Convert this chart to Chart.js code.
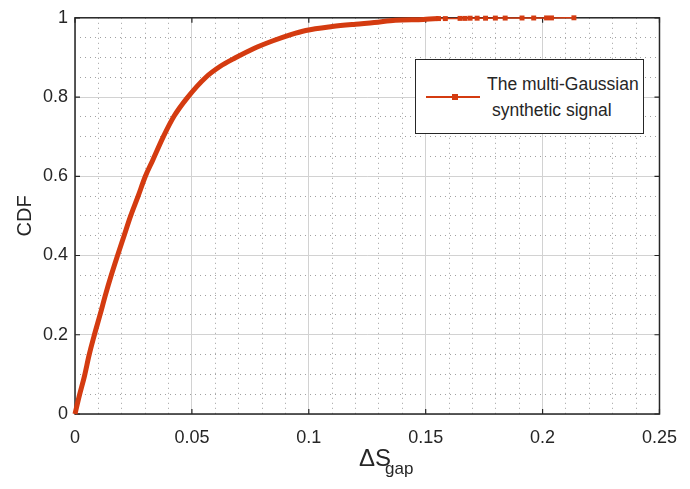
<!DOCTYPE html>
<html>
<head>
<meta charset="utf-8">
<script src="https://cdn.jsdelivr.net/npm/chart.js@4"></script>
<style>
  body { margin: 0; background: #fff; }
  #wrap { position: relative; width: 690px; height: 489px; font-family: 'Liberation Sans', Arial, sans-serif; color: #262626; }
  #legend { position: absolute; left: 415px; top: 59px; width: 227px; height: 73px; border: 1px solid #262626; background: #fff; font-size: 17.5px; }
  #legend .ln { position: absolute; left: 10px; top: 36px; width: 54px; height: 2px; background: #d43b10; }
  #legend .mk { position: absolute; left: 36px; top: 34px; width: 6px; height: 6px; background: #d43b10; }
  #legend .t { position: absolute; white-space: nowrap; line-height: 1; }
  #xlab { position: absolute; left: 359px; top: 446px; font-size: 24px; line-height: 1; white-space: nowrap; }
  #xlab span { position: relative; top: 8px; font-size: 17px; margin-left: -6px; }
</style>
</head>
<body>
<div id="wrap">
  <canvas id="cdfChart" width="690" height="489"></canvas>
  <div id="legend">
    <div class="ln"></div><div class="mk"></div>
    <div class="t" style="left:71px; top:16px;">The multi-Gaussian</div>
    <div class="t" style="left:76px; top:42px;">synthetic signal</div>
  </div>
  <div id="xlab">ΔS<span>gap</span></div>
</div>
<script>
'use strict';

const gapX = [0, 0.0018, 0.0041, 0.006, 0.0083, 0.0107, 0.013, 0.0155, 0.0182, 0.021, 0.0238, 0.027, 0.0301, 0.0332, 0.0378, 0.0424, 0.048, 0.056, 0.062, 0.0686, 0.0763, 0.0847, 0.092, 0.0987, 0.11, 0.12, 0.128, 0.137, 0.149,
    0.1555, 0.1584, 0.1647, 0.1668, 0.169, 0.172, 0.1756, 0.1798, 0.184, 0.1912, 0.1962, 0.2017, 0.2038, 0.2134];
const cdf = [0, 0.045, 0.097, 0.148, 0.2, 0.25, 0.3, 0.35, 0.4, 0.45, 0.5, 0.55, 0.6, 0.64, 0.7, 0.752, 0.798, 0.85, 0.877, 0.899, 0.922, 0.942, 0.957, 0.968, 0.978, 0.984, 0.988, 0.994, 0.996,
    0.998, 0.998, 0.9985, 0.9985, 0.999, 0.999, 0.999, 0.9993, 0.9993, 0.9995, 0.9995, 0.9997, 0.9997, 1];

const xTicks = [0, 0.05, 0.1, 0.15, 0.2, 0.25];
const yTicks = [0, 0.2, 0.4, 0.6, 0.8, 1];

const red = '#d43b10';
const axisClr = '#262626';
const tickFont = { family: "'Liberation Sans', Arial, sans-serif", size: 18 };

// box around the axes with inward ticks, like the original figure
const frame = {
    id: 'frame',
    beforeDatasetsDraw(chart) {
        const { ctx, chartArea: a, scales } = chart;
        ctx.save();
        ctx.strokeStyle = axisClr;
        ctx.lineWidth = 1.5;
        ctx.strokeRect(a.left, a.top, a.right - a.left, a.bottom - a.top);
        ctx.lineWidth = 1.2;
        ctx.beginPath();
        xTicks.forEach(v => {
            const px = scales.x.getPixelForValue(v);
            ctx.moveTo(px, a.bottom); ctx.lineTo(px, a.bottom - 5);
            ctx.moveTo(px, a.top); ctx.lineTo(px, a.top + 5);
        });
        yTicks.forEach(v => {
            const py = scales.y.getPixelForValue(v);
            ctx.moveTo(a.left, py); ctx.lineTo(a.left + 5, py);
            ctx.moveTo(a.right, py); ctx.lineTo(a.right - 5, py);
        });
        ctx.stroke();
        ctx.restore();
    },
};

new Chart(document.getElementById('cdfChart'), {
    type: 'line',
    data: {
        datasets: [{
            label: 'The multi-Gaussian synthetic signal',
            data: gapX.map((x, i) => ({ x, y: cdf[i] })),
            borderColor: red,
            backgroundColor: red,
            borderWidth: 1.5,
            cubicInterpolationMode: 'monotone',
            pointStyle: 'rect',
            pointRadius: ctx => (gapX[ctx.dataIndex] > 0.15 ? 3.5 : 0),
            pointBorderWidth: 0,
            segment: { borderWidth: ctx => (gapX[ctx.p0DataIndex] < 0.15 ? 5 : 1.5) },
            clip: false,
        }],
    },
    options: {
        responsive: false, animation: false, devicePixelRatio: 1,
        layout: { padding: { top: 17, right: 21, left: 0, bottom: 0 } },
        plugins: { legend: { display: false }, tooltip: { enabled: false } },
        scales: {
            x2: {
                type: 'linear', position: 'bottom', min: 0, max: 0.25,
                afterFit: s => { s.height = 0; },
                ticks: { display: false, stepSize: 0.01 },
                grid: { color: '#a0a0a0', lineWidth: 1, drawTicks: false },
                border: { display: false, dash: [1, 4] },
            },
            y2: {
                type: 'linear', position: 'left', min: 0, max: 1,
                afterFit: s => { s.width = 0; },
                ticks: { display: false, stepSize: 0.05 },
                grid: { color: '#a0a0a0', lineWidth: 1, drawTicks: false },
                border: { display: false, dash: [1, 4] },
            },
            x: {
                type: 'linear', position: 'bottom', min: 0, max: 0.25,
                afterFit: s => { s.height = 75; },
                afterBuildTicks: s => { s.ticks = xTicks.map(v => ({ value: v })); },
                ticks: { color: axisClr, font: tickFont, padding: 13, maxRotation: 0, callback: v => String(+v.toFixed(2)) },
                grid: { color: '#d2d2d2', lineWidth: 1, drawTicks: false },
                border: { display: false },
            },
            y: {
                type: 'linear', position: 'left', min: 0, max: 1,
                afterFit: s => { s.width = 75; },
                afterBuildTicks: s => { s.ticks = yTicks.map(v => ({ value: v })); },
                ticks: { color: axisClr, font: tickFont, padding: 7, callback: v => String(+v.toFixed(1)) },
                grid: { color: '#d2d2d2', lineWidth: 1, drawTicks: false },
                border: { display: false },
                title: { display: true, text: 'CDF', color: axisClr, font: { family: tickFont.family, size: 20 }, padding: { top: 13, bottom: 0 } },
            },
        },
    },
    plugins: [frame],
});
</script>
</body>
</html>
